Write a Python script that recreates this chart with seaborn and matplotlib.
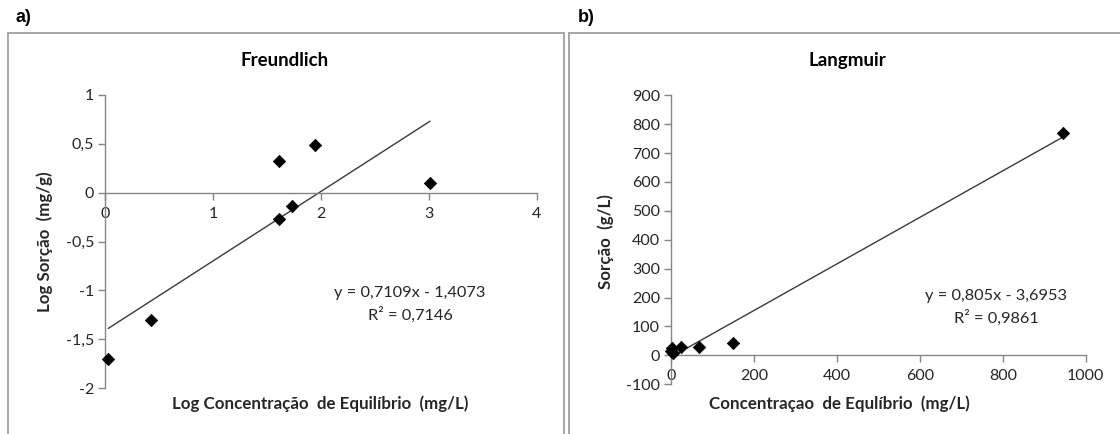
import numpy as np
import pandas as pd
import matplotlib
matplotlib.use("Agg")
import matplotlib.pyplot as plt
from matplotlib.patches import Rectangle
import seaborn as sns

# ---- data ----
freund_x = [0.03, 0.426, 1.61, 1.61, 1.736, 1.946, 3.012]
freund_y = [-1.70, -1.30, 0.324, -0.267, -0.137, 0.485, 0.095]
freund_eq = "y = 0,7109x - 1,4073"
freund_r2 = "R² = 0,7146"
freund_xticks = [0, 1, 2, 3, 4]
freund_yticks = [-2, -1.5, -1, -0.5, 0, 0.5, 1]

lang_x = [1, 2.5, 6, 24, 67, 149, 946]
lang_y = [16, 27, 8, 30, 30, 44, 768]
lang_eq = "y = 0,805x - 3,6953"
lang_r2 = "R² = 0,9861"
lang_xticks = [0, 200, 400, 600, 800, 1000]
lang_yticks = [-100, 0, 100, 200, 300, 400, 500, 600, 700, 800, 900]

sns.set_theme(style="white")
plt.rcParams['font.family'] = ['Lato', 'DejaVu Sans']

W, H = 1120, 434
fig = plt.figure(figsize=(W / 100, H / 100), dpi=100)

def fx(px):
    return px / W

def fy(py):
    return 1 - py / H

axis_col = "#868686"
text_col = "#262626"

TICK_FS = 11.5
LABEL_FS = 12.2
TITLE_FS = 13.5
EQ_FS = 11.8

def fmt(v):
    return ("%g" % v).replace(".", ",")

# panel borders
for x0, x1 in [(7.5, 563.5), (568.5, 1130)]:
    fig.patches.append(Rectangle((fx(x0), fy(445)), fx(x1) - fx(x0), fy(33) - fy(445),
                                 transform=fig.transFigure, fill=False,
                                 edgecolor="#a6a6a6", lw=1.4))

fig.text(fx(15), fy(18), "a)", family="Liberation Sans", weight="bold", fontsize=13,
         va="center", ha="left", color="black")
fig.text(fx(578), fy(18), "b)", family="Liberation Sans", weight="bold", fontsize=13,
         va="center", ha="left", color="black")


def style_axes(ax, xticks, yticks, xlim, ylim):
    ax.set_xlim(*xlim)
    ax.set_ylim(*ylim)
    ax.set_xticks(xticks)
    ax.set_yticks(yticks)
    ax.set_xticklabels([fmt(v) for v in xticks])
    ax.set_yticklabels([fmt(v) for v in yticks])
    for s in ["top", "right"]:
        ax.spines[s].set_visible(False)
    ax.spines["bottom"].set_position(("data", 0))
    for s in ["left", "bottom"]:
        ax.spines[s].set_color(axis_col)
        ax.spines[s].set_linewidth(1.0)
    ax.tick_params(axis="both", which="major", direction="out", length=5, width=1.0,
                   color=axis_col, labelsize=TICK_FS, labelcolor=text_col, pad=3)
    ax.tick_params(axis="x", bottom=True, pad=5)
    ax.tick_params(axis="y", left=True)
    ax.set_xlabel("")
    ax.set_ylabel("")
    ax.patch.set_alpha(0)


# ---- Freundlich ----
ax1 = fig.add_axes([fx(105), fy(388), fx(536.7) - fx(105), fy(95) - fy(388)])
df1 = pd.DataFrame({"x": freund_x, "y": freund_y})
sns.regplot(data=df1, x="x", y="y", ax=ax1, scatter=False, ci=None, truncate=True,
            line_kws=dict(color="#3a3a3a", lw=1.0))
sns.scatterplot(data=df1, x="x", y="y", ax=ax1, marker="D", s=40, color="black",
                edgecolor="black", linewidth=0.5, zorder=5)
style_axes(ax1, freund_xticks, freund_yticks, (0, 4), (-2, 1))

fig.text(fx(285), fy(60), "Freundlich", weight="bold", fontsize=TITLE_FS, ha="center",
         va="center", color="black")
fig.text(fx(320), fy(404), "Log Concentração  de Equilíbrio  (mg/L)", weight="bold",
         fontsize=LABEL_FS, ha="center", va="center", color=text_col)
fig.text(fx(44.6), fy(242), "Log Sorção  (mg/g)", weight="bold", fontsize=LABEL_FS,
         ha="center", va="center", rotation=90, color=text_col)
fig.text(fx(410), fy(293), freund_eq, fontsize=EQ_FS, ha="center", va="center", color=text_col)
fig.text(fx(410), fy(315), freund_r2, fontsize=EQ_FS, ha="center", va="center", color=text_col)

# ---- Langmuir ----
ax2 = fig.add_axes([fx(671), fy(384.3), fx(1085.7) - fx(671), fy(95.3) - fy(384.3)])
df2 = pd.DataFrame({"x": lang_x, "y": lang_y})
sns.regplot(data=df2, x="x", y="y", ax=ax2, scatter=False, ci=None, truncate=True,
            line_kws=dict(color="#3a3a3a", lw=1.0))
sns.scatterplot(data=df2, x="x", y="y", ax=ax2, marker="D", s=40, color="black",
                edgecolor="black", linewidth=0.5, zorder=5)
style_axes(ax2, lang_xticks, lang_yticks, (0, 1000), (-100, 900))

fig.text(fx(847), fy(60), "Langmuir", weight="bold", fontsize=TITLE_FS, ha="center",
         va="center", color="black")
fig.text(fx(839), fy(404), "Concentraçao  de Equlíbrio  (mg/L)", weight="bold",
         fontsize=LABEL_FS, ha="center", va="center", color=text_col)
fig.text(fx(606), fy(242), "Sorção  (g/L)", weight="bold", fontsize=LABEL_FS,
         ha="center", va="center", rotation=90, color=text_col)
fig.text(fx(996), fy(296), lang_eq, fontsize=EQ_FS, ha="center", va="center", color=text_col)
fig.text(fx(996), fy(318), lang_r2, fontsize=EQ_FS, ha="center", va="center", color=text_col)

for ax in (ax1, ax2):
    for c in ax.collections:
        c.set_clip_on(False)

fig.savefig("out.png", dpi=100, facecolor="white")
